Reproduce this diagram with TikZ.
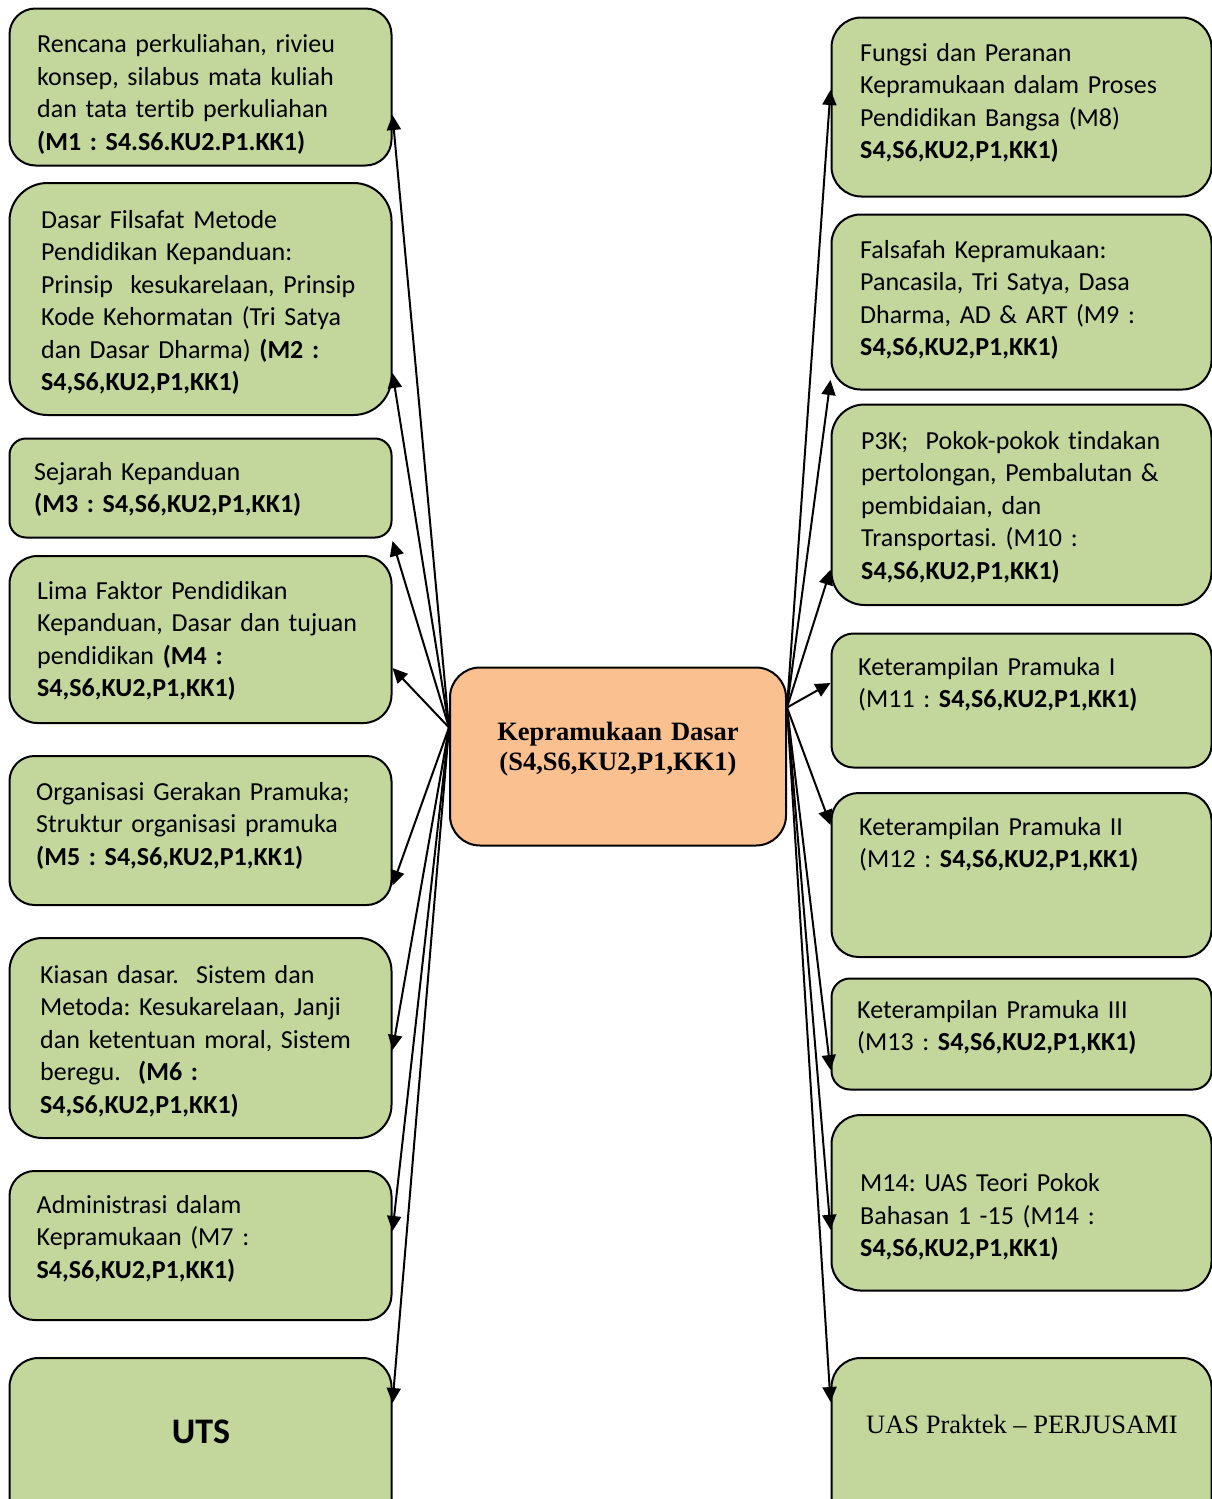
\documentclass[tikz,border=0pt]{standalone}
\usepackage{fontspec}
\setmainfont{Carlito}[Ligatures=CommonOff]
\newfontfamily\timesfont{Liberation Serif}
\usetikzlibrary{arrows.meta}
\definecolor{hijau}{HTML}{C3D69B}
\definecolor{oranye}{HTML}{FAC090}
\frenchspacing

\tikzset{
  kotak/.style={draw=black, fill=hijau, line width=2pt, inner sep=0pt, rounded corners=#1},
  kotak/.default=28pt,
  teks/.style={anchor=base west, inner sep=0pt, text width=370pt, align=left,
    font=\fontsize{26pt}{32.5pt}\selectfont},
  panah/.style={line width=2pt, -{Triangle[length=15pt,width=14pt]}},
}

\begin{document}
\begin{tikzpicture}[x=1pt, y=-1pt]

  \useasboundingbox (0,0) rectangle (1212,1499);
  \clip (0,0) rectangle (1212,1499);

  \node[kotak=26pt, minimum width=382pt, minimum height=157pt] (m1) at (200.5,87) {};
  \node[kotak=38pt, minimum width=382pt, minimum height=232pt] (m2) at (200.5,299) {};
  \node[kotak=16.5pt, minimum width=382pt, minimum height=99pt] (m3) at (200.5,488) {};
  \node[kotak=28pt, minimum width=382pt, minimum height=167pt] (m4) at (200.5,639.5) {};
  \node[kotak=25pt, minimum width=382pt, minimum height=149pt] (m5) at (200.5,830.5) {};
  \node[kotak=33pt, minimum width=382pt, minimum height=200pt] (m6) at (200.5,1038) {};
  \node[kotak=25pt, minimum width=382pt, minimum height=149pt] (m7) at (200.5,1245.5) {};
  \node[kotak=29pt, minimum width=382pt, minimum height=176pt] (uts) at (200.5,1446) {};

  \node[kotak=30pt, minimum width=380pt, minimum height=179pt] (m8) at (1021.5,107) {};
  \node[kotak=29pt, minimum width=380pt, minimum height=175pt] (m9) at (1021.5,302) {};
  \node[kotak=33pt, minimum width=380pt, minimum height=200.5pt] (m10) at (1021.5,504.75) {};
  \node[kotak=22pt, minimum width=380pt, minimum height=134pt] (m11) at (1021.5,700.5) {};
  \node[kotak=27pt, minimum width=380pt, minimum height=164pt] (m12) at (1021.5,875) {};
  \node[kotak=18.5pt, minimum width=380pt, minimum height=111pt] (m13) at (1021.5,1034) {};
  \node[kotak=29pt, minimum width=380pt, minimum height=175.5pt] (m14) at (1021.5,1202.75) {};
  \node[kotak=29pt, minimum width=380pt, minimum height=176pt] (uas) at (1021.5,1446) {};

  \node[kotak=30pt, fill=oranye, minimum width=336pt, minimum height=178pt] (inti) at (618,756.5) {};

  \node[teks] (t1) at (37,52.7) {Rencana perkuliahan, rivieu\\ konsep, silabus mata kuliah\\ dan tata tertib perkuliahan\\ \textbf{(M1 : S4.S6.KU2.P1.KK1)}};
  \node[teks] (t2) at (41,228) {Dasar Filsafat Metode\\ Pendidikan Kepanduan:\\ Prinsip~ kesukarelaan, Prinsip\\ Kode Kehormatan (Tri Satya\\ dan Dasar Dharma) \textbf{(M2 :}\\ \textbf{S4,S6,KU2,P1,KK1)}};
  \node[teks] (t3) at (34,480) {Sejarah Kepanduan\\ \textbf{(M3 : S4,S6,KU2,P1,KK1)}};
  \node[teks] (t4) at (37,599) {Lima Faktor Pendidikan\\ Kepanduan, Dasar dan tujuan\\ pendidikan \textbf{(M4 :}\\ \textbf{S4,S6,KU2,P1,KK1)}};
  \node[teks] (t5) at (36,800) {Organisasi Gerakan Pramuka;\\ Struktur organisasi pramuka\\ \textbf{(M5 : S4,S6,KU2,P1,KK1)}};
  \node[teks] (t6) at (40,983) {Kiasan dasar.~ Sistem dan\\ Metoda: Kesukarelaan, Janji\\ dan ketentuan moral, Sistem\\ beregu.~ \textbf{(M6 :}\\ \textbf{S4,S6,KU2,P1,KK1)}};
  \node[teks] (t7) at (36.5,1213) {Administrasi dalam\\ Kepramukaan (M7 :\\ \textbf{S4,S6,KU2,P1,KK1)}};
  \node[anchor=base, inner sep=0pt, font=\fontsize{36pt}{40pt}\selectfont\bfseries] (tuts) at (201,1443) {UTS};

  \node[teks] (t8) at (860,61) {Fungsi dan Peranan\\ Kepramukaan dalam Proses\\ Pendidikan Bangsa (M8)\\ \textbf{S4,S6,KU2,P1,KK1)}};
  \node[teks] (t9) at (860,258) {Falsafah Kepramukaan:\\ Pancasila, Tri Satya, Dasa\\ Dharma, AD \& ART (M9 :\\ \textbf{S4,S6,KU2,P1,KK1)}};
  \node[teks] (t10) at (861,449) {P3K;~ Pokok-pokok tindakan\\ pertolongan, Pembalutan \&\\ pembidaian, dan\\ Transportasi. (M10 :\\ \textbf{S4,S6,KU2,P1,KK1)}};
  \node[teks] (t11) at (858,675) {Keterampilan Pramuka I\\ (M11 : \textbf{S4,S6,KU2,P1,KK1)}};
  \node[teks] (t12) at (859,835) {Keterampilan Pramuka II\\ (M12 : \textbf{S4,S6,KU2,P1,KK1)}};
  \node[teks] (t13) at (857,1018) {Keterampilan Pramuka III\\ (M13 : \textbf{S4,S6,KU2,P1,KK1)}};
  \node[teks] (t14) at (860,1191.5) {M14: UAS Teori Pokok\\ Bahasan 1 -15 (M14 :\\ \textbf{S4,S6,KU2,P1,KK1)}};
  \node[anchor=base west, inner sep=0pt, font=\timesfont\fontsize{26.5pt}{30pt}\selectfont] (tuas) at (866,1433) {UAS Praktek – PERJUSAMI};

  \node[anchor=base, inner sep=0pt, text width=330pt, align=center,
    font=\timesfont\bfseries\fontsize{26.5pt}{30.5pt}\selectfont] (tinti) at (618,740) {Kepramukaan Dasar\\ (S4,S6,KU2,P1,KK1)};

  \coordinate (kiri) at ([yshift=29pt]inti.west);
  \coordinate (kanan) at ([yshift=49pt]inti.east);

  \draw[panah] (kiri) -- ([yshift=-28pt]m1.east);
  \draw[panah] (kiri) -- ([yshift=-74pt]m2.east);
  \draw[panah] (kiri) -- ([yshift=-53pt]m3.east);
  \draw[panah] (kiri) -- ([yshift=-28.5pt]m4.east);
  \draw[panah] (kiri) -- ([yshift=-55pt]m5.east);
  \draw[panah] (kiri) -- ([yshift=-12pt]m6.east);
  \draw[panah] (kiri) -- ([yshift=14.5pt]m7.east);
  \draw[panah] (kiri) -- ([yshift=43pt]uts.east);

  \draw[panah] (kanan) -- ([yshift=17pt]m8.west);
  \draw[panah] (kanan) -- ([yshift=-78pt]m9.west);
  \draw[panah] (kanan) -- ([yshift=-65pt]m10.west);
  \draw[panah] (kanan) -- ([yshift=17.5pt]m11.west);
  \draw[panah] (kanan) -- ([yshift=50pt]m12.west);
  \draw[panah] (kanan) -- ([yshift=-36pt]m13.west);
  \draw[panah] (kanan) -- ([yshift=-27pt]m14.west);
  \draw[panah] (kanan) -- ([yshift=44pt]uas.west);

\end{tikzpicture}
\end{document}
